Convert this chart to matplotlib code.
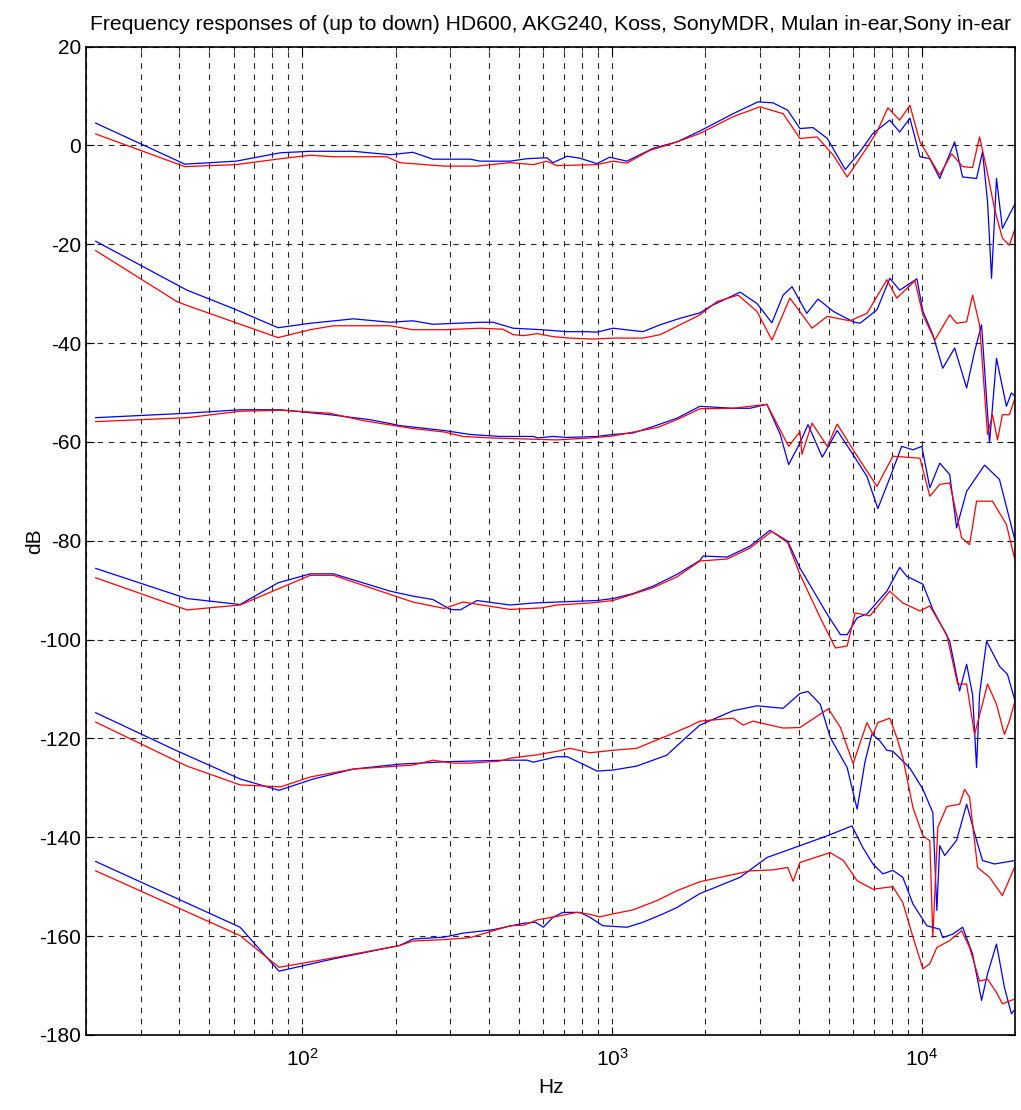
import matplotlib
matplotlib.use("Agg")
import matplotlib.pyplot as plt
from matplotlib.ticker import LogLocator, MultipleLocator

# ---- data (frequency in Hz, level in dB) ----
hd600_blue_f = [21.5, 41.7, 61, 85, 106, 146, 192, 227, 264, 348, 375, 468, 531, 615, 644, 716, 787, 893,
                982, 1116, 1355, 1620, 1920, 2456, 2958, 3307, 3690, 4040, 4450, 4950, 5660, 6310, 6950,
                7880, 8480, 9150, 9860, 10610, 11420, 12760, 13540, 15020, 15700, 16300, 16790, 17420,
                18200, 20000]
hd600_blue_db = [4.5, -3.8, -3.2, -1.5, -1.2, -1.2, -1.9, -1.4, -2.8, -2.8, -3.2, -3.2, -2.7, -2.5, -3.5, -2.2,
                 -2.6, -3.7, -2.4, -3.2, -0.6, 0.7, 2.9, 6.4, 8.8, 8.6, 7.1, 3.4, 3.6, 1.4, -4.9, -1.3, 2.4,
                 5.1, 2.7, 5.5, -2.3, -2.7, -6.7, 0.7, -6.4, -6.7, -1.3, -11.4, -26.9, -6.7, -16.8, -11.8]
hd600_red_f = [21.5, 41.7, 61, 85, 106, 126, 187, 206, 287, 366, 468, 557, 615, 663, 893, 1006, 1116, 1325,
               1570, 1920, 2456, 3000, 3565, 4040, 4590, 5180, 5740, 6450, 7160, 7770, 8480, 9150, 9860,
               11420, 12480, 13540, 14580, 15360, 16180, 17160, 18200, 19170, 20000]
hd600_red_db = [2.3, -4.3, -3.9, -2.7, -2.0, -2.3, -2.3, -3.5, -4.2, -4.2, -3.5, -3.9, -3.2, -4.1, -3.9, -3.2,
                -3.6, -1.0, 0.4, 2.4, 5.8, 7.8, 6.4, 1.4, 1.7, -2.0, -6.4, -1.7, 2.7, 7.6, 5.1, 8.1, 0.7,
                -6.0, -1.7, -4.3, -4.5, 1.7, -4.7, -12.8, -18.8, -20.2, -16.8]

akg_blue_f = [21.5, 39.3, 42.4, 59.7, 83.4, 106, 146, 192, 227, 264, 375, 413, 479, 591, 716, 830, 893, 1006,
              1257, 1430, 1655, 1920, 2070, 2590, 2935, 3280, 3565, 3810, 4250, 4620, 5180, 6000, 6310, 7160,
              7880, 8480, 9640, 10080, 10850, 11680, 12760, 13950, 14800, 15590, 16540, 17420, 18750, 19460,
              20000]
akg_blue_db = [-19.4, -28.2, -29.3, -33, -36.9, -36, -35.1, -35.8, -35.5, -36.2, -35.8, -35.8, -37, -37.3,
               -37.7, -37.7, -37.8, -37, -37.7, -36.3, -35, -33.9, -32.6, -29.7, -32, -35.9, -30.3, -28.6,
               -34, -31.1, -33.6, -35.7, -36, -33.3, -26.9, -29.3, -27, -33.6, -38.3, -45.1, -41, -49.1,
               -41.7, -36.3, -60.2, -43.1, -52.8, -50.1, -50.8]
akg_red_f = [21.5, 39.3, 42.4, 83.4, 106, 126, 192, 227, 287, 375, 444, 479, 517, 574, 644, 730, 868, 1006,
             1257, 1430, 1920, 2180, 2550, 2935, 3280, 3750, 4420, 4950, 5860, 6650, 7710, 8300, 9500, 10080,
             11010, 12300, 12950, 13950, 14580, 15360, 16300, 16910, 17550, 18200, 19170, 20000]
akg_red_db = [-21.3, -31.6, -32.4, -38.9, -37.3, -36.5, -36.5, -37.3, -37.3, -37, -37.2, -38.3, -38.5, -38.1,
              -38.7, -39, -39.2, -39, -39, -38.3, -34.3, -31.6, -30.3, -33.6, -39.4, -30.9, -37, -34.6, -35.5,
              -34, -27.2, -30.9, -27.4, -34.3, -39.4, -34.3, -36, -35.7, -30.3, -36.3, -58.5, -54.5, -59.6,
              -54.5, -54.5, -51.1]

koss_blue_f = [21.5, 42.4, 62.9, 85, 122.7, 165, 192, 206, 287, 348, 434, 557, 574, 644, 716, 893, 1006, 1167,
               1355, 1620, 1920, 2456, 2786, 3160, 3490, 3715, 4040, 4290, 4770, 5330, 6000, 6650, 7210, 7880,
               8610, 9360, 10000, 10610, 11420, 12300, 12950, 13950, 15940, 17810, 20000]
koss_blue_db = [-55.1, -54.2, -53.5, -53.5, -54.5, -55.5, -56.3, -56.7, -57.7, -58.5, -58.9, -58.9, -59.2,
                -58.9, -59.1, -58.9, -58.5, -58.2, -56.9, -55.2, -52.8, -53.2, -53.2, -52.4, -58.5, -64.6,
                -60.2, -56.5, -63.1, -57.7, -62.6, -67, -73.5, -67.3, -60.9, -61.6, -60.9, -69.3, -64.3,
                -66.6, -77.4, -70, -64.7, -67.6, -80]
koss_red_f = [21.5, 42.4, 62.9, 85, 122.7, 157, 227, 287, 330, 404, 663, 848, 1006, 1397, 1620, 1920, 2456,
              3160, 3715, 4040, 4100, 4420, 4950, 5330, 6000, 7160, 8060, 9860, 10610, 11420, 12300, 13440,
              14260, 15020, 16910, 18750, 20000]
koss_red_db = [-55.9, -55.1, -53.8, -53.6, -54.2, -55.7, -57.3, -58, -58.9, -59.2, -59.6, -59.2, -58.8, -57.1,
               -55.5, -53.3, -53.2, -52.4, -60.9, -57.9, -62.5, -56.2, -60.9, -56.4, -61.6, -69, -62.9, -63.3,
               -71, -68.6, -68.3, -79.4, -80.8, -72, -72, -76.7, -84]

mdr_blue_f = [21.5, 42.4, 62.9, 83.5, 106, 126, 192, 227, 264, 300, 323, 366, 468, 557, 663, 893, 1006, 1167,
              1355, 1620, 1920, 1966, 2350, 2786, 3230, 3690, 4040, 4950, 5460, 5740, 6180, 6650, 7710, 8480,
              8940, 10080, 10850, 12300, 13240, 13950, 14580, 15020, 15360, 16180, 17810, 18890, 20000]
mdr_blue_db = [-85.6, -91.7, -92.9, -88.5, -86.7, -86.7, -90.2, -91.2, -91.9, -93.9, -94, -92.1, -93, -92.6,
               -92.4, -92.1, -91.7, -90.7, -89.2, -86.8, -84, -83.1, -83.3, -81.1, -77.9, -80.1, -85.5, -94.9,
               -99, -99, -95.6, -94.8, -90.2, -85.4, -87.2, -88.8, -93.9, -100.3, -110.4, -105, -111.1,
               -125.9, -111, -100.3, -105.4, -107, -112.4]
mdr_red_f = [21.5, 42.4, 62.9, 106, 126, 227, 287, 330, 468, 591, 663, 848, 1006, 1355, 1620, 1920, 2350, 2786,
             3280, 3690, 4040, 4700, 5260, 5740, 6090, 6800, 7880, 8680, 9860, 10610, 12030, 13050, 13950,
             14800, 16300, 17420, 18480, 19170, 20000]
mdr_red_db = [-87.5, -94, -93, -87, -87, -92.4, -93.7, -92.4, -93.9, -93.6, -93, -92.6, -92.1, -89.5, -87.3,
              -84.1, -83.7, -81.5, -78.1, -80.4, -86.8, -95.6, -101.7, -101.3, -94.6, -95.2, -90.2, -92.6,
              -94.2, -93.2, -99, -109, -109, -119.2, -109, -113.1, -119.2, -116.5, -112.4]

mulan_blue_f = [21.5, 39.3, 62.9, 84, 108.5, 146, 206, 295, 458, 531, 557, 663, 716, 830, 893, 1006, 1200, 1500,
                1783, 1920, 2456, 2935, 3565, 4040, 4290, 4700, 5060, 5740, 6180, 6550, 6900, 7320, 7710, 8060,
                9150, 10080, 10850, 11180, 11420, 11850, 12950, 13950, 15020, 15700, 17160, 20000]
mulan_blue_db = [-114.8, -122.5, -128.2, -130.5, -128.2, -126.2, -125.2, -124.7, -124.4, -124.4, -124.8,
                 -123.7, -123.7, -125.6, -126.6, -126.4, -125.6, -123.4, -119.1, -117.3, -114.4, -113.4,
                 -113.9, -110.9, -110.5, -113.1, -119.8, -125.9, -134.3, -124.8, -119.1, -120.5, -122.4,
                 -122.6, -126, -130.3, -135, -154.8, -141.7, -143.7, -140.6, -133.3, -140.6, -144.7, -145.4,
                 -144.7]
mulan_red_f = [21.5, 42.4, 62.9, 85, 106, 146, 227, 264, 307, 348, 433, 468, 574, 663, 730, 848, 1006, 1200,
               1500, 1783, 1920, 2456, 2650, 2850, 3565, 4040, 4990, 5460, 6000, 6650, 6950, 7210, 7880, 8300,
               8680, 9360, 10080, 10610, 10850, 11260, 12030, 13240, 13740, 14260, 15130, 16540, 18200, 20000]
mulan_red_db = [-116.7, -125.6, -129.4, -129.8, -127.8, -126.2, -125.4, -124.4, -125, -125, -124.6, -124,
                -123.3, -122.6, -122, -122.9, -122.4, -122, -119.5, -117.5, -116.5, -115.9, -117.3, -116.5,
                -117.9, -117.8, -114, -117.8, -125.1, -116.8, -119.2, -116.8, -115.9, -119.8, -123.9, -134,
                -139.7, -140.7, -160.2, -138, -133.8, -133.3, -130.3, -131.9, -146.1, -148.1, -151.8, -145.8]

sony_blue_f = [21.5, 62.9, 84, 126, 206, 227, 287, 330, 413, 517, 565, 600, 644, 693, 787, 848, 933, 1116,
               1257, 1460, 1620, 1920, 2590, 3160, 4040, 4950, 5950, 6450, 6950, 7480, 8060, 8680, 9360, 10380,
               11420, 11680, 12570, 13540, 14580, 15590, 16300, 17420, 18480, 19460, 20000]
sony_blue_db = [-144.9, -158.2, -167.1, -164.6, -161.9, -160.6, -160.2, -159.4, -158.7, -157.4, -157.2, -158.2,
                -156.2, -155.2, -155.2, -156.2, -157.9, -158.2, -157.2, -155.5, -154.2, -151.4, -148.1,
                -144.1, -141.7, -139.7, -137.7, -142.1, -145.4, -147.4, -146.7, -148.1, -153.5, -157.9,
                -158.6, -160.3, -159.6, -158.2, -163.6, -173, -167.6, -161.6, -170.4, -175.7, -174.8]
sony_red_f = [21.5, 62.9, 84, 126, 206, 227, 287, 348, 468, 517, 574, 678, 768, 848, 912, 1006, 1167, 1397,
              1620, 1920, 2786, 3307, 3690, 3840, 4040, 5060, 5580, 6180, 6950, 8060, 8680, 9360, 10080, 10610,
              11180, 12300, 13440, 14260, 15360, 16300, 17420, 18200, 20000]
sony_red_db = [-146.8, -159.9, -166.3, -164.4, -161.9, -161, -160.7, -160.3, -157.9, -157.8, -156.7, -155.9,
               -155.2, -155.6, -156.1, -155.5, -154.7, -152.8, -150.8, -149, -146.8, -146.6, -146.1, -148.9,
               -145.1, -143.1, -144.7, -148.8, -150.5, -150, -153.2, -160.2, -166.6, -165.6, -162.3, -160.9,
               -158.9, -162.3, -169.1, -168.7, -171.4, -173.7, -172.7]

pairs = [
    (hd600_blue_f, hd600_blue_db, hd600_red_f, hd600_red_db),
    (akg_blue_f, akg_blue_db, akg_red_f, akg_red_db),
    (koss_blue_f, koss_blue_db, koss_red_f, koss_red_db),
    (mdr_blue_f, mdr_blue_db, mdr_red_f, mdr_red_db),
    (mulan_blue_f, mulan_blue_db, mulan_red_f, mulan_red_db),
    (sony_blue_f, sony_blue_db, sony_red_f, sony_red_db),
]

plt.rcParams['font.family'] = ['Liberation Sans', 'DejaVu Sans']
plt.rcParams['axes.unicode_minus'] = False

fig = plt.figure(figsize=(10.21, 11.10), dpi=100)
ax = fig.add_axes([0.0842, 0.0676, 0.9100, 0.8905])

for bf, bdb, rf, rdb in pairs:
    ax.semilogx(bf, bdb, color='#0000ff', lw=0.9)
    ax.semilogx(rf, rdb, color='#ff0000', lw=0.9)

ax.set_xlim(20, 20000)
ax.set_ylim(-180, 20)
ax.yaxis.set_major_locator(MultipleLocator(20))
ax.xaxis.set_major_locator(LogLocator(base=10))
ax.xaxis.set_minor_locator(LogLocator(base=10, subs=range(2, 10)))

grid_style = dict(color='0.15', linestyle=(0, (5, 5)), linewidth=0.8)
ax.grid(True, which='major', axis='both', **grid_style)
ax.grid(True, which='minor', axis='x', **grid_style)

ax.tick_params(which='both', direction='in', top=True, right=True, labelsize=15)
ax.tick_params(which='major', length=6)
ax.tick_params(which='minor', length=3)
ax.tick_params(axis='x', which='major', pad=9)
for sp in ax.spines.values():
    sp.set_linewidth(1.2)

ax.set_title('Frequency responses of (up to down) HD600, AKG240, Koss, SonyMDR, Mulan in-ear,Sony in-ear',
             fontsize=15.2, pad=12)
ax.set_xlabel('Hz', fontsize=15, labelpad=6)
ax.set_ylabel('dB', fontsize=15)
ax.yaxis.set_label_coords(-0.045, 0.5)

fig.savefig('out.png', dpi=100)
